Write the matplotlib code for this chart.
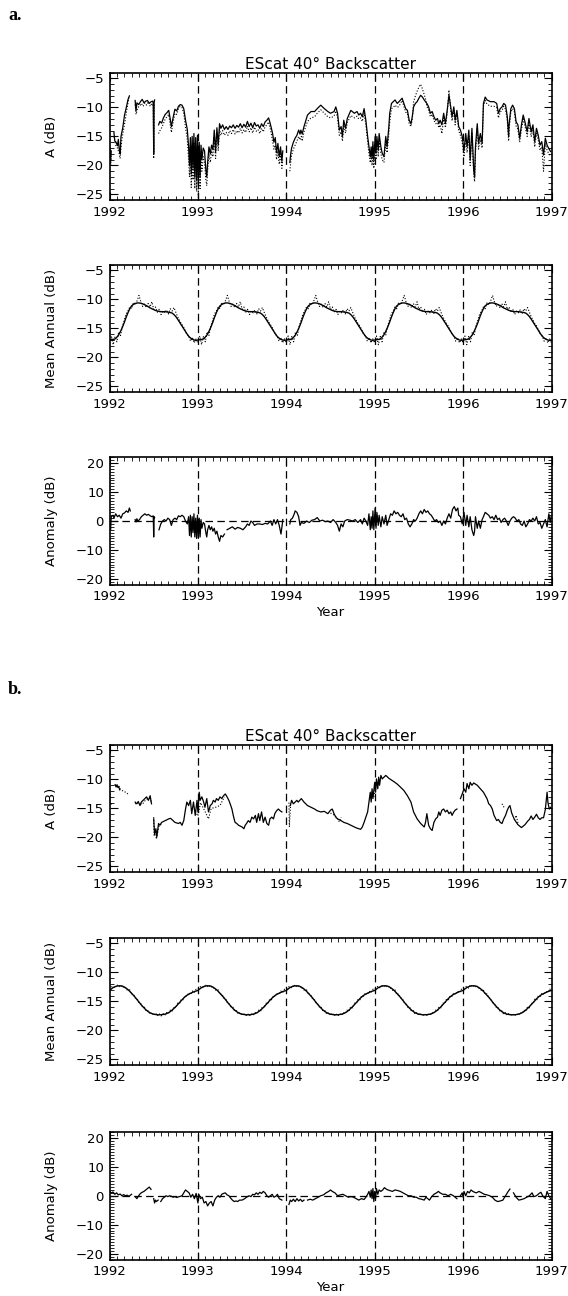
import numpy as np
import matplotlib
matplotlib.use("Agg")
import matplotlib.pyplot as plt
from matplotlib.ticker import MultipleLocator, FuncFormatter

NAN = float("nan")
GAP = (NAN, NAN)

# ---------------- text ----------------
title_text = "EScat 40\u00b0 Backscatter"
panel_letters = ["a.", "b."]
ylabels = ["A (dB)", "Mean Annual (dB)", "Anomaly (dB)"]
xlabel_text = "Year"
year_lines = [1993, 1994, 1995, 1996]
base_years = [1992, 1993, 1994, 1995, 1996]

# ---------------- panel a: backscatter A (solid) ----------------
a_A_solid = [
    (1992.005, -17.0), (1992.012, -19.2), (1992.02, -17.5), GAP,
    (1992.05, -14.3), (1992.06, -15.8), (1992.075, -16.0), (1992.09, -16.6), (1992.10, -15.5),
    (1992.11, -17.2), (1992.12, -18.0), (1992.13, -15.0), (1992.15, -13.5), (1992.17, -11.3),
    (1992.19, -10.0), (1992.21, -8.6), (1992.225, -8.0), GAP,
    (1992.29, -8.8), (1992.30, -10.6), (1992.31, -9.2), (1992.33, -9.5), (1992.35, -9.0),
    (1992.37, -8.6), (1992.39, -9.2), (1992.41, -8.9), (1992.43, -8.8), (1992.45, -9.3),
    (1992.47, -9.0), (1992.49, -8.9), (1992.495, -9.4), (1992.50, -18.0), (1992.505, -9.2),
    (1992.51, -8.7), GAP,
    (1992.555, -13.0), (1992.57, -12.4), (1992.59, -12.7), (1992.61, -11.8), (1992.63, -11.2),
    (1992.65, -10.9), (1992.67, -10.5), (1992.685, -11.8), (1992.70, -13.3), (1992.72, -11.7),
    (1992.74, -10.3), (1992.76, -10.6), (1992.78, -9.8), (1992.80, -9.5), (1992.82, -9.6),
    (1992.84, -10.2), (1992.86, -12.2), (1992.88, -13.8), (1992.895, -16.8), (1992.905, -20.0),
    (1992.915, -15.2), (1992.925, -21.5), (1992.935, -15.0), (1992.945, -20.5), (1992.955, -14.5),
    (1992.965, -22.0), (1992.975, -15.2), (1992.985, -22.5), (1992.995, -14.8), (1993.005, -23.3),
    (1993.015, -16.0), (1993.025, -22.0), (1993.035, -16.5), (1993.045, -19.0), (1993.06, -17.0),
    (1993.075, -17.5), (1993.09, -20.8), (1993.10, -22.0), (1993.11, -19.5), (1993.125, -16.8),
    (1993.14, -18.0), (1993.155, -16.5), (1993.17, -17.3), (1993.185, -13.9), (1993.20, -17.7),
    (1993.215, -13.5), (1993.23, -16.5), (1993.245, -12.8), (1993.26, -13.6), (1993.28, -13.0),
    (1993.30, -13.8), (1993.32, -13.3), (1993.34, -13.8), (1993.36, -13.2), (1993.38, -13.5),
    (1993.40, -13.0), (1993.42, -13.6), (1993.44, -13.1), (1993.46, -13.4), (1993.48, -12.8),
    (1993.50, -13.5), (1993.52, -12.9), (1993.54, -13.4), (1993.56, -12.4), (1993.58, -13.3),
    (1993.60, -12.7), (1993.62, -13.5), (1993.64, -12.6), (1993.66, -13.2), (1993.68, -13.0),
    (1993.70, -13.6), (1993.72, -12.8), (1993.74, -13.3), (1993.76, -12.5), (1993.78, -12.2),
    (1993.80, -11.8), (1993.815, -12.6), (1993.83, -13.5), (1993.845, -14.5), (1993.86, -16.0),
    (1993.875, -15.2), (1993.89, -17.8), (1993.905, -16.2), (1993.92, -18.5), (1993.935, -16.8),
    (1993.95, -19.3), (1993.96, -17.5), GAP,
    (1994.04, -19.5), (1994.05, -18.0), (1994.06, -17.0), (1994.08, -16.0), (1994.10, -15.3),
    (1994.12, -14.8), (1994.14, -13.9), (1994.155, -14.6), (1994.165, -13.9), (1994.18, -14.6),
    (1994.20, -13.3), (1994.24, -11.3), (1994.28, -10.7), (1994.32, -10.7), (1994.35, -10.2),
    (1994.39, -9.6), (1994.43, -10.2), (1994.47, -10.7), (1994.50, -11.0), (1994.54, -10.7),
    (1994.56, -9.9), (1994.58, -11.0), (1994.60, -13.9), (1994.62, -13.3), (1994.635, -15.0),
    (1994.65, -12.2), (1994.67, -13.6), (1994.69, -11.9), (1994.73, -10.5), (1994.77, -11.0),
    (1994.80, -10.7), (1994.82, -11.3), (1994.84, -11.0), (1994.86, -11.6), (1994.88, -10.2),
    (1994.90, -12.2), (1994.92, -15.0), (1994.935, -16.8), (1994.95, -18.5), (1994.96, -16.8),
    (1994.97, -18.8), (1994.98, -15.9), (1994.99, -19.1), (1995.005, -15.0), (1995.015, -17.9),
    (1995.025, -15.0), (1995.04, -17.4), (1995.05, -14.5), (1995.07, -16.8), (1995.085, -17.9),
    (1995.105, -18.5), (1995.125, -15.0), (1995.14, -16.8), (1995.16, -13.3), (1995.17, -11.0),
    (1995.19, -9.3), (1995.21, -9.0), (1995.23, -8.7), (1995.255, -9.3), (1995.275, -9.0),
    (1995.31, -8.4), (1995.33, -9.3), (1995.35, -10.2), (1995.37, -10.5), (1995.39, -12.2),
    (1995.41, -12.8), (1995.425, -11.6), (1995.44, -9.9), (1995.46, -9.3), (1995.48, -9.0),
    (1995.50, -8.4), (1995.52, -7.9), (1995.54, -8.2), (1995.56, -8.7), (1995.575, -9.0),
    (1995.59, -9.3), (1995.61, -9.9), (1995.63, -11.0), (1995.65, -10.7), (1995.67, -11.6),
    (1995.69, -12.2), (1995.71, -11.9), (1995.725, -12.8), (1995.74, -12.2), (1995.76, -13.0),
    (1995.78, -11.0), (1995.80, -12.8), (1995.82, -10.5), (1995.84, -7.9), (1995.86, -9.9),
    (1995.875, -11.6), (1995.895, -9.9), (1995.91, -12.2), (1995.93, -10.5), (1995.95, -13.3),
    (1995.97, -13.9), (1995.99, -15.0), (1996.01, -17.4), (1996.03, -14.5), (1996.045, -16.8),
    (1996.065, -13.9), (1996.08, -19.1), (1996.10, -13.6), (1996.12, -20.8), (1996.13, -22.0),
    (1996.14, -16.8), (1996.16, -12.8), (1996.175, -16.2), (1996.195, -14.5), (1996.215, -16.2),
    (1996.23, -9.3), (1996.25, -8.2), (1996.27, -8.7), (1996.31, -9.0), (1996.35, -9.0),
    (1996.38, -9.3), (1996.40, -11.0), (1996.42, -10.2), (1996.44, -9.9), (1996.46, -9.3),
    (1996.48, -9.6), (1996.50, -11.6), (1996.515, -15.0), (1996.52, -13.0), (1996.54, -10.2),
    (1996.56, -9.6), (1996.58, -10.2), (1996.60, -12.5), (1996.62, -13.0), (1996.64, -15.3),
    (1996.66, -13.0), (1996.68, -11.3), (1996.70, -12.5), (1996.725, -14.2), (1996.745, -11.9),
    (1996.77, -14.2), (1996.79, -13.0), (1996.81, -15.9), (1996.83, -13.6), (1996.85, -14.8),
    (1996.87, -16.5), (1996.89, -15.9), (1996.91, -18.2), (1996.93, -15.3), (1996.95, -16.5),
    (1996.97, -17.1), (1996.99, -17.6),
]

# ---------------- panel a: backscatter A (dotted companion) ----------------
a_A_dotted = [
    (1992.005, -18.5), (1992.015, -20.0), (1992.02, -18.0), GAP,
    (1992.05, -15.0), (1992.07, -16.5), (1992.09, -17.0), (1992.11, -18.0), (1992.12, -18.8),
    (1992.14, -15.5), (1992.16, -13.8), (1992.18, -12.0), (1992.20, -10.0), (1992.22, -8.3), GAP,
    (1992.29, -9.5), (1992.30, -11.2), (1992.32, -10.0), (1992.34, -9.8), (1992.36, -9.3),
    (1992.38, -9.8), (1992.40, -9.2), (1992.42, -9.6), (1992.44, -9.0), (1992.46, -9.8),
    (1992.48, -9.3), (1992.495, -9.8), (1992.50, -18.8), (1992.505, -9.5), GAP,
    (1992.555, -14.5), (1992.57, -14.0), (1992.59, -13.5), (1992.61, -12.8), (1992.63, -12.0),
    (1992.65, -11.6), (1992.67, -11.2), (1992.685, -12.8), (1992.70, -14.3), (1992.72, -12.5),
    (1992.74, -11.0), (1992.76, -11.2), (1992.78, -10.2), (1992.80, -9.8), (1992.82, -10.0),
    (1992.84, -11.0), (1992.86, -13.5), (1992.88, -15.5), (1992.895, -19.0), (1992.905, -22.0),
    (1992.915, -17.0), (1992.925, -23.8), (1992.935, -16.5), (1992.945, -22.5), (1992.955, -16.0),
    (1992.965, -24.0), (1992.975, -17.0), (1992.985, -24.5), (1992.995, -16.5), (1993.005, -25.5),
    (1993.015, -18.0), (1993.025, -24.0), (1993.035, -18.0), (1993.045, -21.0), (1993.06, -18.5),
    (1993.075, -19.5), (1993.09, -22.5), (1993.10, -23.5), (1993.11, -21.0), (1993.125, -18.0),
    (1993.14, -19.5), (1993.155, -17.5), (1993.17, -18.5), (1993.185, -15.0), (1993.20, -18.8),
    (1993.215, -14.5), (1993.23, -17.5), (1993.245, -13.8), (1993.26, -14.8), (1993.28, -14.0),
    (1993.30, -14.8), (1993.32, -14.3), (1993.34, -14.8), (1993.36, -14.0), (1993.38, -14.5),
    (1993.40, -13.8), (1993.42, -14.6), (1993.44, -14.0), (1993.46, -14.4), (1993.48, -13.6),
    (1993.50, -14.4), (1993.52, -13.8), (1993.54, -14.3), (1993.56, -13.2), (1993.58, -14.2),
    (1993.60, -13.5), (1993.62, -14.4), (1993.64, -13.4), (1993.66, -14.1), (1993.68, -13.8),
    (1993.70, -14.5), (1993.72, -13.6), (1993.74, -14.2), (1993.76, -13.3), (1993.78, -13.0),
    (1993.80, -12.5), (1993.815, -13.4), (1993.83, -14.5), (1993.845, -15.8), (1993.86, -17.2),
    (1993.875, -16.5), (1993.89, -19.0), (1993.905, -17.5), (1993.92, -19.8), (1993.935, -18.0),
    (1993.95, -20.5), (1993.96, -19.0), GAP,
    (1994.04, -21.0), (1994.05, -19.5), (1994.06, -18.2), (1994.08, -17.2), (1994.10, -16.5),
    (1994.12, -15.8), (1994.14, -15.0), (1994.155, -15.6), (1994.17, -15.0), (1994.18, -15.8),
    (1994.20, -14.2), (1994.24, -12.4), (1994.28, -11.8), (1994.32, -11.6), (1994.35, -11.0),
    (1994.39, -10.4), (1994.43, -11.0), (1994.47, -11.6), (1994.50, -11.8), (1994.54, -11.5),
    (1994.56, -10.6), (1994.58, -11.8), (1994.60, -14.8), (1994.62, -14.2), (1994.635, -15.8),
    (1994.65, -13.0), (1994.67, -14.4), (1994.69, -12.6), (1994.73, -11.4), (1994.77, -11.8),
    (1994.80, -11.5), (1994.82, -12.0), (1994.84, -11.8), (1994.86, -12.4), (1994.88, -11.0),
    (1994.90, -13.0), (1994.92, -16.0), (1994.935, -18.0), (1994.95, -19.5), (1994.96, -17.8),
    (1994.97, -20.0), (1994.98, -17.0), (1994.99, -20.5), (1995.005, -16.5), (1995.015, -19.0),
    (1995.025, -16.2), (1995.04, -18.5), (1995.05, -15.8), (1995.07, -18.0), (1995.085, -19.0),
    (1995.105, -19.5), (1995.125, -16.0), (1995.14, -17.8), (1995.16, -14.5), (1995.17, -12.5),
    (1995.19, -10.2), (1995.21, -10.0), (1995.23, -9.6), (1995.255, -10.0), (1995.275, -9.8),
    (1995.31, -8.8), (1995.33, -9.8), (1995.35, -10.8), (1995.37, -11.0), (1995.39, -12.8),
    (1995.41, -13.3), (1995.425, -12.0), (1995.44, -9.0), (1995.46, -8.0), (1995.48, -7.2),
    (1995.50, -6.5), (1995.52, -6.0), (1995.54, -6.8), (1995.56, -7.8), (1995.575, -8.5),
    (1995.59, -9.8), (1995.61, -10.5), (1995.63, -11.6), (1995.65, -11.2), (1995.67, -12.2),
    (1995.69, -12.8), (1995.71, -12.6), (1995.725, -13.5), (1995.74, -13.0), (1995.76, -14.5),
    (1995.78, -11.8), (1995.80, -13.5), (1995.82, -11.0), (1995.84, -7.0), (1995.86, -10.5),
    (1995.875, -12.3), (1995.895, -10.5), (1995.91, -13.0), (1995.93, -11.2), (1995.95, -14.0),
    (1995.97, -14.8), (1995.99, -16.0), (1996.01, -18.5), (1996.03, -15.5), (1996.045, -17.8),
    (1996.065, -15.0), (1996.08, -20.0), (1996.10, -14.5), (1996.12, -21.5), (1996.13, -22.8),
    (1996.14, -17.8), (1996.16, -13.5), (1996.175, -17.2), (1996.195, -15.5), (1996.215, -17.0),
    (1996.23, -9.8), (1996.25, -8.8), (1996.27, -9.4), (1996.31, -9.8), (1996.35, -9.8),
    (1996.38, -10.0), (1996.40, -11.8), (1996.42, -10.8), (1996.44, -10.5), (1996.46, -9.8),
    (1996.48, -10.3), (1996.50, -12.3), (1996.515, -15.8), (1996.52, -13.8), (1996.54, -10.8),
    (1996.56, -10.2), (1996.58, -10.8), (1996.60, -13.2), (1996.62, -13.8), (1996.64, -16.0),
    (1996.66, -13.8), (1996.68, -12.0), (1996.70, -13.2), (1996.725, -15.0), (1996.745, -12.6),
    (1996.77, -15.0), (1996.79, -13.8), (1996.81, -16.8), (1996.83, -14.4), (1996.85, -15.6),
    (1996.87, -17.4), (1996.89, -16.8), (1996.91, -21.0), (1996.93, -16.2), (1996.95, -17.4),
    (1996.97, -18.0), (1996.99, -18.4),
]

# ---------------- panel a: mean annual cycle (48 steps per year) ----------------
a_mean_smooth = [
    -17.0, -16.95, -16.9, -16.8, -16.5, -16.1, -15.5, -14.8, -14.0, -13.1, -12.3, -11.6,
    -11.1, -10.85, -10.7, -10.6, -10.6, -10.65, -10.75, -10.9, -11.05, -11.25, -11.45, -11.6,
    -11.75, -11.9, -12.0, -12.05, -12.1, -12.1, -12.1, -12.15, -12.2, -12.25, -12.35, -12.6,
    -12.95, -13.4, -13.9, -14.4, -14.9, -15.4, -15.9, -16.35, -16.65, -16.85, -17.0, -17.05,
]
a_mean_raw = [
    -17.5, -16.3, -17.8, -16.4, -17.3, -15.6, -16.2, -14.6, -13.6, -12.5, -12.0, -11.3,
    -11.6, -10.5, -10.9, -10.2, -9.3, -10.4, -11.2, -10.8, -11.4, -10.7, -11.3, -10.4,
    -11.7, -11.3, -12.2, -11.7, -12.6, -12.0, -12.3, -11.8, -12.5, -11.6, -12.0, -11.4,
    -12.2, -13.0, -13.6, -14.2, -14.6, -15.3, -16.0, -16.3, -17.2, -16.6, -17.5, -16.8,
]

# ---------------- panel a: anomaly ----------------
a_anom = [
    (1992.005, 0.0), (1992.012, -3.0), (1992.02, 1.5), (1992.04, 2.0), (1992.05, 1.0),
    (1992.07, 2.5), (1992.09, 1.5), (1992.11, 2.0), (1992.13, 1.0), (1992.15, 2.5),
    (1992.17, 2.8), (1992.19, 3.5), (1992.21, 3.0), (1992.225, 4.5), (1992.235, 3.5), GAP,
    (1992.29, 0.5), (1992.30, -0.3), (1992.31, 0.8), (1992.32, 0.0), (1992.34, 0.5),
    (1992.36, 1.5), (1992.38, 2.0), (1992.40, 2.5), (1992.42, 2.0), (1992.44, 2.3),
    (1992.46, 1.8), (1992.48, 1.5), (1992.495, 1.8), (1992.50, -5.5), (1992.505, 1.5),
    (1992.51, 1.2), GAP,
    (1992.56, -3.0), (1992.58, -1.0), (1992.60, 0.0), (1992.62, 0.5), (1992.64, 0.0),
    (1992.66, 1.0), (1992.68, 0.5), (1992.70, -1.5), (1992.72, 0.5), (1992.74, 1.0),
    (1992.76, 0.5), (1992.78, 1.8), (1992.80, 1.5), (1992.82, 2.0), (1992.84, 1.5),
    (1992.86, 0.0), (1992.88, -1.0), (1992.895, 1.5), (1992.905, -5.0), (1992.915, 2.0),
    (1992.925, -5.5), (1992.935, 1.5), (1992.945, -4.0), (1992.955, 2.5), (1992.965, -5.5),
    (1992.975, 1.0), (1992.985, -6.0), (1992.995, 2.0), (1993.005, -6.0), (1993.015, 1.0),
    (1993.025, -5.5), (1993.035, 0.5), (1993.045, -2.5), (1993.06, -0.5), (1993.075, -1.0),
    (1993.09, -4.0), (1993.10, -5.5), (1993.11, -3.0), (1993.125, -1.5), (1993.14, -3.0),
    (1993.155, -2.0), (1993.17, -3.5), (1993.185, -2.5), (1993.20, -4.5), (1993.215, -3.5),
    (1993.23, -5.5), (1993.245, -7.0), (1993.26, -5.0), (1993.28, -5.5), (1993.30, -4.5), GAP,
    (1993.33, -3.0), (1993.36, -2.5), (1993.39, -2.0), (1993.42, -2.8), (1993.45, -2.2),
    (1993.48, -2.5), (1993.51, -3.0), (1993.54, -2.0), (1993.56, -1.0), (1993.58, -1.5),
    (1993.60, 0.0), (1993.62, -0.5), (1993.64, -1.5), (1993.67, -1.0), (1993.70, -1.0),
    (1993.73, -1.2), (1993.76, -0.8), (1993.79, -1.0), (1993.82, 0.0), (1993.84, -1.5),
    (1993.86, 0.5), (1993.88, -1.0), (1993.90, 0.5), (1993.92, -1.5), (1993.94, -4.5),
    (1993.955, -1.0), (1993.96, 0.5), GAP,
    (1994.04, -1.0), (1994.05, 0.5), (1994.07, 1.0), (1994.09, 2.5), (1994.10, 3.5),
    (1994.12, 3.0), (1994.14, 1.5), (1994.155, -1.5), (1994.17, -0.5), (1994.20, -0.8),
    (1994.23, 0.0), (1994.26, -0.5), (1994.29, 0.3), (1994.32, 0.5), (1994.35, 1.2),
    (1994.38, 0.0), (1994.41, 0.3), (1994.44, -0.2), (1994.47, 0.0), (1994.50, -0.5),
    (1994.53, 0.5), (1994.56, -0.5), (1994.58, -1.5), (1994.60, -3.5), (1994.62, -1.0),
    (1994.64, -2.0), (1994.66, 0.0), (1994.69, 0.5), (1994.72, 0.3), (1994.75, 0.0),
    (1994.78, 0.5), (1994.81, -0.5), (1994.84, 0.5), (1994.86, -1.0), (1994.88, 1.0),
    (1994.90, 0.0), (1994.92, -1.5), (1994.935, 2.5), (1994.95, -3.0), (1994.96, 1.5),
    (1994.97, -2.5), (1994.98, 3.5), (1994.99, -3.0), (1995.005, 4.5), (1995.015, -2.5),
    (1995.025, 3.0), (1995.04, -1.5), (1995.05, 2.0), (1995.07, -2.0), (1995.085, 1.5),
    (1995.105, -1.0), (1995.125, 2.0), (1995.14, -1.5), (1995.16, 0.5), (1995.18, 2.5),
    (1995.20, 2.0), (1995.22, 3.5), (1995.24, 2.5), (1995.26, 3.0), (1995.28, 2.0),
    (1995.30, 1.5), (1995.32, 2.5), (1995.34, 0.5), (1995.36, 1.0), (1995.38, -1.0),
    (1995.40, -2.0), (1995.42, -1.0), (1995.44, 0.5), (1995.46, 0.0), (1995.48, 1.0),
    (1995.50, 2.5), (1995.52, 3.5), (1995.54, 2.5), (1995.56, 4.0), (1995.58, 3.0),
    (1995.60, 3.5), (1995.62, 2.5), (1995.64, 2.0), (1995.66, 1.0), (1995.68, 0.0),
    (1995.70, 0.5), (1995.72, -0.5), (1995.74, 0.0), (1995.76, -1.5), (1995.78, 0.0),
    (1995.80, -1.0), (1995.82, 1.0), (1995.84, 2.5), (1995.86, 1.0), (1995.88, 4.0),
    (1995.90, 5.0), (1995.92, 3.5), (1995.94, 4.5), (1995.95, 2.0), (1995.97, 1.5),
    (1995.99, -1.0), (1996.01, 3.0), (1996.03, -1.5), (1996.045, 2.0), (1996.065, -2.0),
    (1996.08, 1.5), (1996.10, -3.0), (1996.12, -5.0), (1996.13, -3.5), (1996.14, 1.5),
    (1996.16, -2.5), (1996.175, 0.0), (1996.195, -2.5), (1996.215, 0.5), (1996.23, 1.5),
    (1996.25, 3.0), (1996.27, 2.5), (1996.29, 2.0), (1996.31, 1.0), (1996.33, 1.5),
    (1996.35, 0.5), (1996.37, 2.0), (1996.39, 0.5), (1996.41, 1.0), (1996.43, -0.5),
    (1996.45, 0.5), (1996.47, 1.0), (1996.49, 0.0), (1996.51, -1.5), (1996.53, 0.0),
    (1996.55, 1.0), (1996.57, 1.5), (1996.59, 1.0), (1996.61, 0.0), (1996.63, 0.5),
    (1996.65, -1.0), (1996.67, -1.5), (1996.69, 0.0), (1996.71, -2.0), (1996.73, -1.0),
    (1996.75, 0.5), (1996.77, 0.0), (1996.79, 1.0), (1996.81, 0.0), (1996.83, 1.5),
    (1996.85, -1.0), (1996.87, -0.5), (1996.89, -2.5), (1996.91, -1.0), (1996.93, 0.5),
    (1996.95, -2.0), (1996.97, 2.5), (1996.985, -0.5), (1996.995, 1.5),
]

# ---------------- panel b: backscatter A (solid) ----------------
b_A_solid = [
    (1992.0, -12.2), (1992.003, -14.2), (1992.02, -14.2), GAP,
    (1992.065, -11.0), (1992.075, -11.3), (1992.085, -10.9), (1992.095, -11.4), (1992.105, -11.2),
    (1992.115, -11.8), GAP,
    (1992.29, -13.9), (1992.31, -14.2), (1992.325, -13.8), (1992.345, -14.5), (1992.36, -13.9),
    (1992.38, -13.6), (1992.40, -13.3), (1992.42, -13.0), (1992.44, -13.6), (1992.46, -12.8),
    (1992.475, -14.2), GAP,
    (1992.50, -16.8), (1992.51, -19.4), (1992.525, -18.5), (1992.535, -19.9), (1992.555, -17.6),
    (1992.57, -17.9), (1992.59, -17.4), (1992.63, -17.1), (1992.67, -16.8), (1992.69, -16.7),
    (1992.705, -16.9), (1992.74, -17.4), (1992.78, -17.6), (1992.80, -17.4), (1992.82, -17.9),
    (1992.84, -17.1), (1992.86, -15.1), (1992.875, -13.9), (1992.895, -14.5), (1992.915, -13.6),
    (1992.93, -15.9), (1992.95, -13.9), (1992.97, -16.2), (1992.99, -13.6), (1993.0, -15.6),
    (1993.015, -12.2), (1993.025, -13.6), (1993.045, -13.0), (1993.065, -13.9), (1993.08, -14.8),
    (1993.10, -13.3), (1993.12, -15.6), (1993.14, -14.5), (1993.16, -14.2), (1993.175, -13.6),
    (1993.195, -13.9), (1993.21, -13.3), (1993.23, -13.6), (1993.25, -13.0), (1993.27, -13.3),
    (1993.29, -12.8), (1993.31, -12.5), (1993.33, -13.0), (1993.35, -13.6), (1993.365, -14.2),
    (1993.385, -15.1), (1993.40, -16.2), (1993.42, -17.4), (1993.44, -17.6), (1993.46, -17.9),
    (1993.50, -18.2), (1993.52, -18.5), (1993.535, -17.9), (1993.55, -17.6), (1993.57, -17.1),
    (1993.59, -17.4), (1993.61, -16.5), (1993.63, -16.8), (1993.65, -16.2), (1993.665, -17.4),
    (1993.685, -15.9), (1993.70, -17.1), (1993.72, -15.6), (1993.74, -17.4), (1993.76, -16.5),
    (1993.78, -17.6), (1993.80, -17.9), (1993.815, -16.8), (1993.835, -16.5), (1993.855, -16.8),
    (1993.87, -15.9), (1993.89, -15.4), (1993.91, -15.1), (1993.93, -15.4), (1993.95, -15.6), GAP,
    (1994.045, -14.5), (1994.06, -13.6), (1994.08, -14.2), (1994.10, -13.9), (1994.12, -13.6),
    (1994.135, -13.9), (1994.17, -13.3), (1994.20, -13.9), (1994.24, -14.5), (1994.28, -14.8),
    (1994.32, -15.1), (1994.35, -15.4), (1994.39, -15.6), (1994.43, -15.5), (1994.47, -15.9),
    (1994.50, -15.3), (1994.52, -15.1), (1994.54, -15.9), (1994.56, -16.5), (1994.58, -16.8),
    (1994.62, -17.1), (1994.65, -17.4), (1994.69, -17.6), (1994.73, -17.9), (1994.77, -18.2),
    (1994.80, -18.4), (1994.84, -18.6), (1994.86, -18.2), (1994.88, -17.4), (1994.90, -16.5),
    (1994.92, -15.6), (1994.935, -13.9), (1994.95, -12.2), (1994.96, -13.9), (1994.97, -11.6),
    (1994.98, -13.3), (1995.0, -10.5), (1995.01, -12.2), (1995.02, -9.9), (1995.035, -11.6),
    (1995.045, -9.6), (1995.055, -11.0), (1995.07, -9.3), (1995.085, -9.9), (1995.105, -9.6),
    (1995.125, -9.3), (1995.14, -9.5), (1995.16, -9.8), (1995.18, -10.0), (1995.22, -10.4),
    (1995.255, -10.8), (1995.29, -11.3), (1995.33, -11.9), (1995.37, -12.8), (1995.41, -13.9),
    (1995.44, -15.6), (1995.48, -16.8), (1995.52, -17.6), (1995.56, -18.2), (1995.575, -17.4),
    (1995.59, -15.9), (1995.61, -17.9), (1995.63, -18.5), (1995.65, -18.8), (1995.67, -17.4),
    (1995.69, -16.8), (1995.71, -16.5), (1995.725, -15.6), (1995.74, -16.2), (1995.76, -15.3),
    (1995.78, -15.1), (1995.80, -15.6), (1995.82, -15.3), (1995.84, -15.9), (1995.86, -15.6),
    (1995.875, -16.2), (1995.895, -15.6), (1995.91, -15.3), (1995.93, -15.1), GAP,
    (1995.97, -13.3), (1995.99, -12.5), (1996.01, -11.6), (1996.03, -12.2), (1996.045, -10.7),
    (1996.065, -11.6), (1996.08, -10.5), (1996.10, -11.0), (1996.12, -10.6), (1996.16, -11.0),
    (1996.195, -11.6), (1996.23, -12.2), (1996.27, -13.3), (1996.29, -14.2), (1996.31, -14.5),
    (1996.33, -15.1), (1996.35, -16.2), (1996.37, -16.8), (1996.38, -17.1), (1996.40, -16.9),
    (1996.42, -17.4), (1996.44, -17.6), (1996.46, -16.8), (1996.48, -16.2), (1996.50, -15.3),
    (1996.515, -14.8), (1996.53, -14.5), (1996.55, -15.8), (1996.58, -16.9), (1996.62, -17.8),
    (1996.66, -18.3), (1996.70, -17.8), (1996.73, -17.2), (1996.75, -16.9), (1996.77, -16.3),
    (1996.79, -16.9), (1996.81, -16.5), (1996.83, -16.0), (1996.85, -16.6), (1996.87, -16.9),
    (1996.89, -16.6), (1996.91, -16.6), (1996.93, -15.2), (1996.95, -12.2), (1996.96, -14.0),
    (1996.975, -15.1), (1996.99, -14.8),
]

# ---------------- panel b: backscatter A (dotted companion) ----------------
b_A_dotted = [
    (1992.0, -12.0), (1992.01, -13.6), GAP,
    (1992.06, -10.8), (1992.08, -11.2), (1992.10, -11.0), (1992.12, -11.6), (1992.14, -11.9),
    (1992.16, -12.0), (1992.18, -12.2), (1992.20, -12.4), (1992.215, -12.6), GAP,
    (1992.29, -14.2), (1992.33, -14.0), (1992.37, -14.3), (1992.41, -13.5), (1992.45, -13.2),
    (1992.48, -14.0), GAP,
    (1992.50, -16.5), (1992.505, -19.8), (1992.52, -18.8), (1992.53, -20.3), (1992.56, -18.0),
    (1992.60, -17.5), GAP,
    (1992.97, -15.5), (1993.00, -16.3), (1993.03, -14.0), (1993.08, -15.5), (1993.12, -16.8),
    (1993.15, -15.0), (1993.20, -14.8), (1993.25, -14.5), (1993.30, -13.0), GAP,
    (1994.03, -14.0), (1994.035, -18.2), (1994.04, -16.5), (1994.05, -14.0), GAP,
    (1994.50, -15.8), (1994.55, -16.2), (1994.58, -16.8), (1994.60, -17.3), (1994.62, -16.5), GAP,
    (1994.99, -13.0), (1995.01, -11.0), GAP,
    (1996.44, -14.2), (1996.47, -15.0), GAP,
    (1996.58, -17.0), (1996.60, -16.2), (1996.62, -17.5),
]

# ---------------- panel b: mean annual cycle (48 steps per year) ----------------
b_mean_smooth = [
    -13.1, -12.85, -12.6, -12.45, -12.35, -12.3, -12.3, -12.35, -12.5, -12.7, -12.95, -13.25,
    -13.6, -13.95, -14.3, -14.7, -15.1, -15.5, -15.85, -16.2, -16.5, -16.75, -16.95, -17.1,
    -17.2, -17.25, -17.3, -17.3, -17.3, -17.25, -17.2, -17.1, -16.95, -16.75, -16.5, -16.2,
    -15.9, -15.55, -15.2, -14.85, -14.5, -14.2, -13.95, -13.75, -13.6, -13.45, -13.3, -13.2,
]
b_mean_raw = [
    -12.9, -12.5, -12.4, -12.7, -12.1, -12.5, -12.2, -12.6, -12.4, -12.9, -13.1, -13.0,
    -13.8, -13.7, -14.4, -14.5, -15.2, -15.4, -16.0, -16.0, -16.7, -16.6, -17.2, -16.9,
    -17.4, -17.0, -17.5, -17.1, -17.5, -17.1, -17.4, -16.9, -17.1, -16.5, -16.7, -15.9,
    -16.1, -15.3, -15.4, -14.6, -14.7, -14.0, -14.1, -13.5, -13.8, -13.2, -13.5, -12.9,
]

# ---------------- panel b: anomaly ----------------
b_anom = [
    (1992.0, 1.5), (1992.02, 1.0), (1992.04, 1.3), (1992.06, 0.5), (1992.08, 1.0),
    (1992.10, 0.3), (1992.12, 0.6), (1992.14, 0.0), (1992.16, 0.4), (1992.18, 0.0),
    (1992.20, 0.2), (1992.22, -0.2), (1992.25, 0.5), GAP,
    (1992.29, -0.3), (1992.31, -1.0), (1992.33, 0.0), (1992.35, 0.8), (1992.37, 1.2),
    (1992.39, 1.5), (1992.41, 2.0), (1992.43, 2.5), (1992.45, 3.0), (1992.47, 2.2), GAP,
    (1992.50, -1.0), (1992.51, -2.5), (1992.52, -1.5), (1992.53, -2.0), (1992.55, -1.5), GAP,
    (1992.58, -2.0), (1992.60, -1.0), (1992.62, -0.5), (1992.64, 0.0), (1992.66, -0.3),
    (1992.68, 0.0), (1992.70, -0.2), (1992.72, -0.5), (1992.74, -0.3), (1992.76, -0.6),
    (1992.78, -0.4), (1992.80, -0.2), (1992.82, 0.0), (1992.84, 1.0), (1992.86, 2.0),
    (1992.88, 1.5), (1992.90, 1.0), (1992.92, -0.5), (1992.94, 0.5), (1992.96, -1.0),
    (1992.98, 0.8), (1993.00, -2.5), (1993.01, 0.5), (1993.03, -1.0), (1993.05, -0.5),
    (1993.07, -2.5), (1993.09, -2.0), (1993.11, -3.5), (1993.13, -2.5), (1993.15, -2.0),
    (1993.17, -3.5), (1993.19, -1.5), (1993.21, -0.5), (1993.23, 0.0), (1993.25, -0.5),
    (1993.27, 0.5), (1993.29, 0.8), (1993.31, 1.0), (1993.33, 0.3), (1993.35, 0.0),
    (1993.37, -0.8), (1993.39, -1.5), (1993.41, -2.0), (1993.43, -1.8), (1993.45, -2.0),
    (1993.47, -1.5), (1993.50, -1.5), (1993.53, -1.0), (1993.55, -0.5), (1993.58, 0.0),
    (1993.60, -0.3), (1993.62, 0.5), (1993.64, 0.3), (1993.66, 1.0), (1993.68, 0.5),
    (1993.70, 1.2), (1993.72, 0.8), (1993.74, 1.5), (1993.76, 1.0), (1993.78, 0.0),
    (1993.80, -0.5), (1993.82, 0.0), (1993.84, 0.5), (1993.86, -0.5), (1993.88, -0.2),
    (1993.90, 0.5), (1993.92, -1.0), (1993.95, -1.5), GAP,
    (1994.03, -3.0), (1994.045, -1.5), (1994.06, -2.0), (1994.08, -1.2), (1994.10, -2.0),
    (1994.12, -1.0), (1994.14, -1.8), (1994.16, -1.2), (1994.18, -2.0), (1994.20, -1.5), GAP,
    (1994.24, -1.5), (1994.27, -1.2), (1994.30, -1.5), (1994.33, -1.0), (1994.36, -0.5),
    (1994.39, 0.0), (1994.42, 0.3), (1994.45, 1.0), (1994.48, 1.5), (1994.50, 2.0),
    (1994.52, 1.5), (1994.55, 1.0), (1994.58, 0.0), (1994.61, 0.3), (1994.64, 0.5),
    (1994.67, 0.0), (1994.70, -0.5), (1994.73, -0.3), (1994.76, -0.5), (1994.79, -1.0),
    (1994.82, -1.5), (1994.85, -1.0), (1994.88, -1.3), (1994.90, -0.5), (1994.92, 0.5),
    (1994.935, 1.5), (1994.95, -0.5), (1994.96, 2.0), (1994.97, -1.0), (1994.98, 2.5),
    (1994.99, -2.0), (1995.00, 1.5), (1995.01, -1.0), (1995.02, 2.5), (1995.035, 0.5),
    (1995.05, 2.0), (1995.07, 1.5), (1995.09, 2.0), (1995.11, 2.8), (1995.13, 2.3),
    (1995.15, 2.0), (1995.17, 1.8), (1995.20, 1.5), (1995.23, 2.0), (1995.26, 1.8),
    (1995.29, 1.5), (1995.32, 1.0), (1995.35, 0.5), (1995.38, 0.0), (1995.41, 0.0),
    (1995.44, -0.5), (1995.47, -0.5), (1995.50, -1.0), (1995.53, -1.2), (1995.56, -1.5),
    (1995.58, -0.5), (1995.60, -1.0), (1995.62, -1.5), (1995.64, -0.5), (1995.67, 0.5),
    (1995.70, 1.0), (1995.72, 1.5), (1995.74, 1.0), (1995.77, 0.5), (1995.80, 0.5),
    (1995.83, 0.0), (1995.86, 0.5), (1995.89, 0.0), (1995.91, -0.5), (1995.93, -1.0), GAP,
    (1995.97, 0.0), (1995.99, 1.0), (1996.00, -0.5), (1996.01, 1.5), (1996.03, 0.0),
    (1996.05, 1.5), (1996.07, 1.0), (1996.09, 2.0), (1996.11, 1.5), (1996.13, 1.2),
    (1996.15, 1.0), (1996.18, 1.5), (1996.21, 1.0), (1996.24, 0.5), (1996.27, 0.3),
    (1996.30, 0.0), (1996.33, -0.5), (1996.36, -1.5), (1996.39, -2.0), (1996.42, -1.8),
    (1996.45, -1.5), (1996.47, -0.5), (1996.49, 0.5), (1996.51, 1.5), (1996.53, 2.3), GAP,
    (1996.57, 1.0), (1996.60, -0.5), (1996.63, -1.5), (1996.66, -1.3), (1996.69, -1.0),
    (1996.72, -0.5), (1996.75, 0.0), (1996.78, 1.0), (1996.80, -0.3), (1996.83, 0.0),
    (1996.86, 0.8), (1996.88, 1.2), (1996.90, 0.0), (1996.93, -1.0), (1996.95, 1.5),
    (1996.97, 0.0), (1996.99, -1.0),
]


def unzip(pairs):
    arr = np.array(pairs, dtype=float)
    return arr[:, 0], arr[:, 1]


def tile_annual(values):
    n = len(values)
    t = np.concatenate([y + np.arange(n) / n for y in base_years] + [np.array([base_years[-1] + 1.0])])
    v = np.concatenate([np.array(values, float)] * len(base_years) + [np.array(values[:1], float)])
    return t, v


plt.rcParams["font.family"] = ["DejaVu Sans"]
W, H = 568, 1296
fig = plt.figure(figsize=(W / 100, H / 100), dpi=100)

left = 109.5 / W
width = (551.5 - 109.5) / W
tops = [72.7, 264.7, 457.3, 744.7, 937.7, 1132.0]
hpx = 127.5

axes = []
for tp in tops:
    ax = fig.add_axes([left, 1 - (tp + hpx) / H, width, hpx / H])
    axes.append(ax)

dash = (0, (6, 3.5))
dot = (0, (1, 1.6))


def style(ax, ylim, ymaj, ymin, ylabel):
    ax.set_xlim(1992, 1997)
    ax.set_ylim(*ylim)
    ax.xaxis.set_major_locator(MultipleLocator(1))
    ax.xaxis.set_minor_locator(MultipleLocator(1 / 12))
    ax.yaxis.set_major_locator(MultipleLocator(ymaj))
    ax.yaxis.set_minor_locator(MultipleLocator(ymin))
    ax.xaxis.set_major_formatter(FuncFormatter(lambda v, p: f"{int(round(v))}"))
    ax.tick_params(which="both", direction="in", top=True, right=True, labelsize=9.5, pad=4)
    ax.tick_params(which="major", length=6, width=0.8)
    ax.tick_params(which="minor", length=3, width=0.6)
    for s in ax.spines.values():
        s.set_linewidth(1.2)
    ax.set_ylabel(ylabel, fontsize=9.5)
    ax.yaxis.set_label_coords(-0.117, 0.5)
    for yl in year_lines:
        ax.axvline(yl, color="black", lw=0.9, linestyle=dash, zorder=1)


for k, (A_solid, A_dot, m_smooth, m_raw, anom) in enumerate([
    (a_A_solid, a_A_dotted, a_mean_smooth, a_mean_raw, a_anom),
    (b_A_solid, b_A_dotted, b_mean_smooth, b_mean_raw, b_anom),
]):
    ax1, ax2, ax3 = axes[3 * k:3 * k + 3]
    xs, ys = unzip(A_solid)
    xd, yd = unzip(A_dot)
    ts, vs = tile_annual(m_smooth)
    tr, vr = tile_annual(m_raw)
    xa, ya = unzip(anom)

    # A
    ax1.plot(xd, yd, color="black", lw=0.8, linestyle=dot, zorder=2)
    ax1.plot(xs, ys, color="black", lw=0.9, zorder=3)
    style(ax1, (-26, -4), 5, 1, ylabels[0])
    ax1.set_title(title_text, fontsize=11, pad=3)

    # mean annual
    ax2.plot(tr, vr, color="black", lw=0.8, linestyle=dot, zorder=2)
    ax2.plot(ts, vs, color="black", lw=1.0, zorder=3)
    style(ax2, (-26, -4), 5, 1, ylabels[1])

    # anomaly
    ax3.axhline(0, color="black", lw=0.9, linestyle=dash, zorder=1)
    ax3.plot(xa, ya, color="black", lw=0.9, zorder=3)
    style(ax3, (-22, 22), 10, 1, ylabels[2])
    ax3.set_xlabel(xlabel_text, fontsize=9.5, labelpad=2)

fig.text(8 / W, 1 - 15 / H, panel_letters[0], fontsize=13, fontweight="bold",
         family="Liberation Serif", va="center", ha="left")
fig.text(8 / W, 1 - 690 / H, panel_letters[1], fontsize=13, fontweight="bold",
         family="Liberation Serif", va="center", ha="left")

fig.savefig("out.png", dpi=100)
